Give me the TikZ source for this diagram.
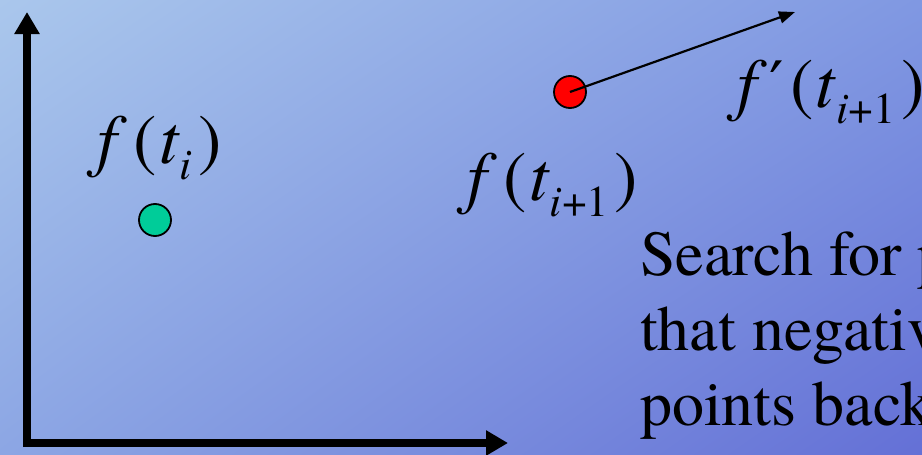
\documentclass[tikz,border=0pt]{standalone}
\usepackage{fontspec}
\setmainfont{texgyretermes}[Extension=.otf, UprightFont=*-regular, ItalicFont=*-italic, BoldFont=*-bold]
\newfontfamily\primefont{DejaVu Serif}
\usetikzlibrary{arrows.meta,shadings}

\definecolor{bgtl}{RGB}{170,199,236}
\definecolor{bgtr}{RGB}{128,152,226}
\definecolor{bgbl}{RGB}{140,166,228}
\definecolor{bgbr}{RGB}{100,112,214}
\definecolor{ptgreen}{RGB}{0,204,153}

\tikzset{
  axis/.style={line width=8pt, -{Triangle[length=22pt,width=24pt]}},
  point/.style={circle, draw=black, line width=1.8pt, minimum size=32pt, inner sep=0pt},
  lbl/.style={font=\fontsize{70}{70}\selectfont, inner sep=0pt, anchor=base west},
  txt/.style={font=\fontsize{64}{64}\selectfont, inner sep=0pt, anchor=base west},
}
\newcommand{\sbs}[1]{\raisebox{-16pt}{\fontsize{44}{44}\selectfont #1}}
\newcommand{\ftof}[2]{\textit{f}#1\kern7pt(\kern2pt\textit{t}\sbs{#2}\kern6pt)}

\begin{document}
\begin{tikzpicture}[x=1pt,y=-1pt]
  \useasboundingbox (0,0) rectangle (922,455);
  \clip (0,0) rectangle (922,455);
  \shade[upper left=bgtl, upper right=bgtr, lower left=bgbl, lower right=bgbr]
    (0,0) rectangle (922,455);

  % axes
  \coordinate (ybot) at (27,447);
  \coordinate (ytip) at (27,12);
  \coordinate (xleft) at (23,443);
  \coordinate (xtip) at (508,443);
  \draw[axis] (ybot) -- (ytip);
  \draw[axis] (xleft) -- (xtip);

  % points
  \node[point, fill=ptgreen] (fi) at (155,220) {};
  \node[point, fill=red] (fnext) at (570,92) {};
  \coordinate (dtip) at (795,12);
  \draw[line width=2.2pt, -{Triangle[length=16pt,width=12pt]}] (fnext.center) -- (dtip);

  % labels
  \node[lbl] (lfi) at (97,163) {\ftof{}{\textit{i}}};
  \node[lbl] (lfnext) at (467,200) {\ftof{}{\textit{i}+1}};
  \node[lbl] (ldnext) at (737,107) {\ftof{\kern3pt{\primefont\fontsize{64}{64}\selectfont ′}\kern-1pt}{\textit{i}+1}};

  \node[txt] (s1) at (640,275) {Search for p};
  \node[txt] (s2) at (640,350) {that negativ};
  \node[txt] (s3) at (640,425) {points back};
\end{tikzpicture}
\end{document}
